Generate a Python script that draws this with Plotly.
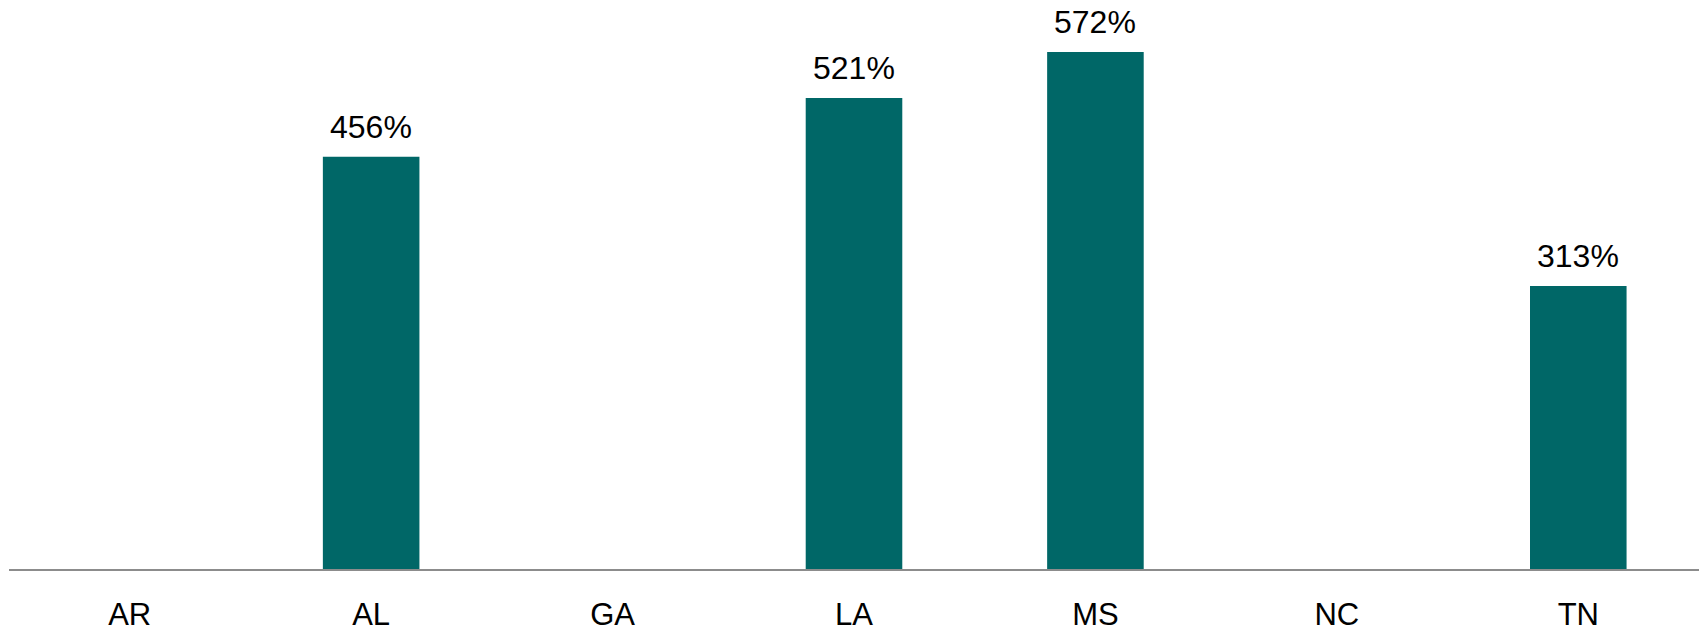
import plotly.graph_objects as go

states = ["AR", "AL", "GA", "LA", "MS", "NC", "TN"]
values = [0, 456, 0, 521, 572, 0, 313]
labels = ["", "456%", "", "521%", "572%", "", "313%"]

bar_color = "#006767"

fig = go.Figure()
fig.add_trace(go.Bar(
    x=states, y=values, marker_color=bar_color, marker_line_width=0,
    hoverinfo="skip",
))

for s, v, t in zip(states, values, labels):
    if t:
        fig.add_annotation(x=s, y=v, text=t, showarrow=False, yanchor="bottom",
                           yshift=10, font=dict(family="Liberation Sans, Arial", size=32, color="black"))

fig.update_layout(
    width=1699, height=631,
    margin=dict(l=9, r=0, t=8, b=62),
    plot_bgcolor="white", paper_bgcolor="white",
    bargap=0.6, showlegend=False,
    font=dict(family="Liberation Sans, Arial", size=30, color="black"),
)
fig.update_xaxes(showline=True, linecolor="#8c8c8c", linewidth=2, ticks="outside",
                 ticklen=17, tickcolor="rgba(0,0,0,0)", showgrid=False, automargin=False,
                 tickfont=dict(size=31, color="black"))
fig.update_yaxes(range=[0, 620.6], visible=False, showgrid=False, zeroline=False, automargin=False)

fig.write_html("out.html", config={"displayModeBar": False},
               post_script="document.body.style.margin='0';document.body.style.overflow='hidden';")
